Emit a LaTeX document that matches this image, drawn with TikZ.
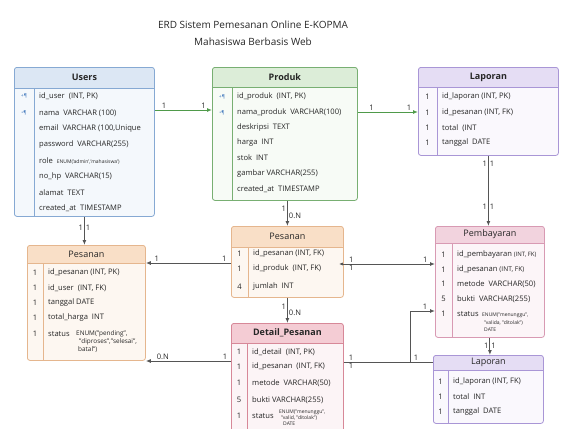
\documentclass[tikz,border=0pt]{standalone}
\usepackage{fontspec}
\setmainfont{Open Sans}
\usetikzlibrary{arrows.meta,calc}

\definecolor{usrHead}{HTML}{DCE7F4}\definecolor{usrBody}{HTML}{F4F8FC}\definecolor{usrLine}{HTML}{86A9D3}
\definecolor{prdHead}{HTML}{DCEDD8}\definecolor{prdBody}{HTML}{F7FBF6}\definecolor{prdLine}{HTML}{78AF72}
\definecolor{lapHead}{HTML}{E5DDF4}\definecolor{lapBody}{HTML}{FAF8FD}\definecolor{lapLine}{HTML}{A996D6}
\definecolor{psnHead}{HTML}{F9DFC7}\definecolor{psnBody}{HTML}{FDF7F1}\definecolor{psnLine}{HTML}{E5B68E}
\definecolor{byrHead}{HTML}{F2D3DE}\definecolor{byrBody}{HTML}{FCF5F8}\definecolor{byrLine}{HTML}{D89AB3}
\definecolor{dtlHead}{HTML}{F4CCD4}\definecolor{dtlBody}{HTML}{FCF4F6}\definecolor{dtlLine}{HTML}{D78898}
\definecolor{keyBlue}{HTML}{4A7FC0}
\definecolor{relGray}{HTML}{555555}
\definecolor{relGreen}{HTML}{4F9A4A}

\tikzset{
  tbl/.style n args={5}{draw=#1Line, fill=#1Body, line width=0.8pt, rounded corners=2.5pt,
    inner sep=0pt, anchor=north west, minimum width=#2, minimum height=#3,
    path picture={
      \fill[#1Head] (path picture bounding box.north west) rectangle ([yshift=-#4]path picture bounding box.north east);
      \draw[#1Line, line width=0.8pt] ([yshift=-#4]path picture bounding box.north west) -- ([yshift=-#4]path picture bounding box.north east);
      \draw[#1Line, line width=0.8pt] ([xshift=#5, yshift=-#4]path picture bounding box.north west) -- ([xshift=#5]path picture bounding box.south west);
    }},
  hdtxt/.style={inner sep=0pt, font=\fontsize{9}{10}\selectfont, text=black!85},
  fld/.style={anchor=west, inner sep=0pt, font=\fontsize{7.6}{9}\selectfont, text=black!85},
  num/.style={inner sep=0pt, font=\fontsize{7.6}{9}\selectfont, text=black!85},
  key/.style={inner sep=0pt, font=\fontsize{5}{6}\selectfont, text=keyBlue},
  enumtxt/.style={anchor=north west, inner sep=0pt, align=left, text=black!85},
  card/.style={inner sep=1pt, font=\fontsize{7.6}{9}\selectfont, text=black!85},
  rel/.style={relGray, line width=1pt, -{Latex[length=5pt,width=4pt]}},
  relg/.style={relGreen, line width=1pt, -{Latex[length=5pt,width=4pt]}},
}

\begin{document}
\begin{tikzpicture}[x=1pt, y=-1pt]
\useasboundingbox (0,0) rectangle (561,428);
\clip (0,0) rectangle (561,428);

\node[align=center, font=\fontsize{10}{17}\selectfont, text=black!85] (title) at (253,33) {ERD Sistem Pemesanan Online E-KOPMA\\Mahasiswa Berbasis Web};

% tables
\node[tbl={usr}{140pt}{149pt}{21pt}{20pt}] (users) at (14,67) {};
\node[tbl={prd}{145pt}{133pt}{20pt}{20pt}] (produk) at (212,67) {};
\node[tbl={lap}{140pt}{88pt}{20pt}{19pt}] (lap1) at (418,67) {};
\node[tbl={psn}{118pt}{115pt}{18pt}{16pt}] (psnl) at (27,245) {};
\node[tbl={psn}{112pt}{71pt}{21pt}{17pt}] (psm) at (231,226) {};
\node[tbl={byr}{109pt}{111pt}{17pt}{17pt}] (byr) at (435,226) {};
\node[tbl={dtl}{112pt}{120pt}{20pt}{16pt}] (dtl) at (231,323) {};
\node[tbl={lap}{110pt}{68pt}{15pt}{15pt}] (lap2) at (433,355) {};

\node[hdtxt, font=\fontsize{9}{10}\selectfont\bfseries] (users-h) at ([yshift=-10.5pt]users.north) {Users};
\node[hdtxt, font=\fontsize{9}{10}\selectfont\bfseries] (produk-h) at ([yshift=-10pt]produk.north) {Produk};
\node[hdtxt, font=\fontsize{9}{10}\selectfont\bfseries] (lap1-h) at ([yshift=-10pt]lap1.north) {Laporan};
\node[hdtxt] (psnl-h) at ([yshift=-9pt]psnl.north) {Pesanan};
\node[hdtxt] (psm-h) at ([yshift=-10.5pt]psm.north) {Pesanan};
\node[hdtxt] (byr-h) at ([yshift=-8.5pt]byr.north) {Pembayaran};
\node[hdtxt, font=\fontsize{9}{10}\selectfont\bfseries] (dtl-h) at ([yshift=-10pt]dtl.north) {Detail\_Pesanan};
\node[hdtxt] (lap2-h) at ([yshift=-7.5pt]lap2.north) {Laporan};

% Users
\foreach \y/\t [count=\i] in {96/{id\_user\ \ (INT, PK)}, 113/{nama\ \ VARCHAR (100)}, 129/{email\ \ VARCHAR (100,Unique}, 145/{password\ \ VARCHAR(255)}, 161/{role\ \ {\fontsize{5}{6}\selectfont ENUM('admin','mahasiswa')}}, 177/{no\_hp\ \ VARCHAR(15)}, 193/{alamat\ \ TEXT}, 208/{created\_at\ \ TIMESTAMP}}
  \node[fld] (usr-\i) at (39,\y) {\t};
\node[key] (usr-k1) at (24,96) {+¶};
\node[key] (usr-k2) at (24,113) {•¶};

% Produk
\foreach \y/\t [count=\i] in {97/{id\_produk\ \ (INT, PK)}, 113/{nama\_produk\ \ VARCHAR(100)}, 128/{deskripsi\ \ TEXT}, 143/{harga\ \ INT}, 158/{stok\ \ INT}, 174/{gambar VARCHAR(255)}, 189/{created\_at\ \ TIMESTAMP}}
  \node[fld] (prd-\i) at (237,\y) {\t};
\node[key] (prd-k1) at (222,97) {+¶};
\node[key] (prd-k2) at (222,113) {•¶};

% Laporan atas
\foreach \y/\t [count=\i] in {97/{id\_laporan (INT, PK)}, 113/{id\_pesanan (INT, FK)}, 128/{total\ \ (INT}, 143/{tanggal\ \ DATE}}{
  \node[num] (lap1-n\i) at (427.5,\y) {1};
  \node[fld] (lap1-\i) at (442,\y) {\t};
}

% Pesanan kiri
\foreach \y/\t [count=\i] in {273/{id\_pesanan (INT, PK)}, 288/{id\_user\ \ (INT, FK)}, 303/{tanggal DATE}, 318/{total\_harga\ \ INT}, 334/{status}}{
  \node[num] (psnl-n\i) at (35,\y) {1};
  \node[fld] (psnl-\i) at (48,\y) {\t};
}
\node[enumtxt, font=\fontsize{6.4}{8}\selectfont] (psnl-e) at (76,330.5) {ENUM("pending",\\\hspace{3pt}"diproses","selesai",\\\hspace{2pt}batal")};

% Pesanan tengah
\foreach \y/\n/\t [count=\i] in {254/1/{id\_pesanan (INT, FK)}, 269/1/{id\_produk\ \ (INT, FK)}, 287/4/{jumlah\ \ INT}}{
  \node[num] (psm-n\i) at (239.5,\y) {\n};
  \node[fld] (psm-\i) at (253,\y) {\t};
}

% Pembayaran
\foreach \y/\n/\t [count=\i] in {255/1/{id\_pembayaran {\fontsize{6}{7}\selectfont(INT, FK)}}, 270/1/{id\_pesanan {\fontsize{6.6}{7}\selectfont(INT, FK)}}, 284/1/{metode\ \ VARCHAR(50)}, 299/5/{bukti\ \ VARCHAR(255)}, 314/1/{status}}{
  \node[num] (byr-n\i) at (443.5,\y) {\n};
  \node[fld] (byr-\i) at (457,\y) {\t};
}
\node[enumtxt, font=\fontsize{5}{7.5}\selectfont] (byr-e) at (482,313) {ENUM("menunggu",\\\hspace{2pt}"valida, "ditolak")\\\hspace{2pt}DATE};

% Detail_Pesanan
\foreach \y/\n/\t [count=\i] in {352/1/{id\_detail\ \ (INT, PK)}, 367/1/{id\_pesanan\ \ (INT, FK)}, 383/1/{metode\ \ VARCHAR(50)}, 400/5/{bukti VARCHAR(255)}, 416/1/{status}}{
  \node[num] (dtl-n\i) at (239,\y) {\n};
  \node[fld] (dtl-\i) at (252,\y) {\t};
}
\node[enumtxt, font=\fontsize{5}{5.8}\selectfont] (dtl-e) at (279,410) {ENUM("menunggu",\\\hspace{2pt}"valid, "ditolak")\\\hspace{4pt}DATE};

% Laporan bawah
\foreach \y/\t [count=\i] in {382/{id\_laporan (INT, FK)}, 397/{total\ \ INT}, 412/{tanggal\ \ DATE}}{
  \node[num] (lap2-n\i) at (440.5,\y) {1};
  \node[fld] (lap2-\i) at (453,\y) {\t};
}

% relasi
\draw[relg] (users.east |- 0,110) -- node[card, pos=0.16, above] (c1a) {1} node[card, pos=0.85, above] (c1b) {1} (produk.west |- 0,110);
\draw[relg] (produk.east |- 0,112) -- node[card, pos=0.23, above] (c2a) {1} node[card, pos=0.85, above] (c2b) {1} (lap1.west |- 0,112);
\draw[rel] (lap1.south) -- node[card, pos=0.11, left] (c3a) {1} node[card, pos=0.11, right] (c3b) {1}
  node[card, pos=0.73, left] (c3c) {1} node[card, pos=0.73, right] (c3d) {1} (lap1.south |- byr.north);
\draw[rel] (users.south) -- node[card, pos=0.38, left] (c4a) {1} node[card, pos=0.38, right] (c4b) {1} (users.south |- psnl.north);
\draw[rel] (psm.north |- produk.south) -- node[card, pos=0.3, left] (c5a) {1} node[card, pos=0.58, right] (c5b) {0.N} (psm.north);
\draw[rel] (psm.west |- 0,263) -- node[card, pos=0.08, above] (c6a) {1} node[card, pos=0.87, above] (c6b) {1} (psnl.east |- 0,263);
\draw[rel, {Latex[length=4pt,width=3pt]}-{Latex[length=5pt,width=4pt]}] ([xshift=-5pt]psm.east |- 0,264) -- node[card, pos=0.13, above] (c7a) {1} node[card, pos=0.13, below] (c7b) {1} node[card, pos=0.9, above] (c7c) {1} (byr.west |- 0,264);
\draw[rel] (psm.south) -- node[card, pos=0.35, left] (c8a) {1} node[card, pos=0.58, right] (c8b) {0.N} (dtl.north);
\draw[rel] (dtl.west |- 0,361) -- node[card, pos=0.07, above] (c9a) {1} node[card, pos=0.8, above] (c9b) {0.N} (psnl.east |- 0,361);
\draw[relGray, line width=1pt] (dtl.east |- 0,362) -- node[card, pos=0.08, above] (c10a) {1} node[card, pos=0.08, below] (c10b) {1} node[card, pos=0.81, above] (c10c) {1} (lap2.west |- 0,362);
\coordinate (jn) at (410,362);
\draw[rel] (jn) |- node[card, pos=0.8, above] (c11a) {1} (byr.west |- 0,311);
\draw[rel] (byr.south) -- node[card, pos=0.45, left] (c12a) {1} node[card, pos=0.45, right] (c12b) {1} (byr.south |- lap2.north);
\end{tikzpicture}
\end{document}
